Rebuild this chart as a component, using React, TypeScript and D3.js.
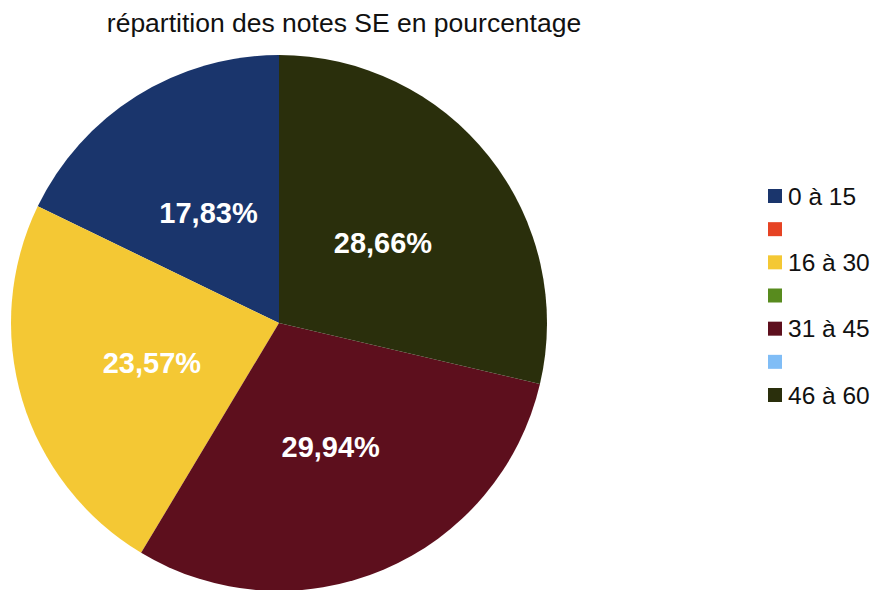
import React, { useEffect, useRef } from 'react';
import * as d3 from 'd3';

const categories = ['0 à 15', '', '16 à 30', '', '31 à 45', '', '46 à 60'];
const percentages = [17.83, 0, 23.57, 0, 29.94, 0, 28.66];
const colors = ['#1a356c', '#e64324', '#f4c834', '#588b1e', '#5d0f1d', '#80bdf6', '#2a2f0c'];
const title = 'répartition des notes SE en pourcentage';

const width = 873;
const height = 590;

export default function App() {
  const ref = useRef<SVGSVGElement>(null);

  useEffect(() => {
    const svg = d3.select(ref.current);
    svg.selectAll('*').remove();

    const font = '"Liberation Sans", Arial, sans-serif';
    const radius = 268;
    const cx = 279;
    const cy = 323;

    svg.append('text')
      .attr('x', 344)
      .attr('y', 32)
      .attr('text-anchor', 'middle')
      .attr('font-family', font)
      .attr('font-size', 26.5)
      .attr('fill', '#111')
      .text(title);

    const data = categories.map((c, i) => ({ label: c, value: percentages[i], color: colors[i] }));

    // counterclockwise from 12 o'clock, like the spreadsheet
    const pie = d3.pie<{ label: string; value: number; color: string }>()
      .value(d => d.value)
      .sort(null)
      .startAngle(0)
      .endAngle(-2 * Math.PI);

    const arcs = pie(data);
    const arc = d3.arc<d3.PieArcDatum<any>>().innerRadius(0).outerRadius(radius);
    const labelArc = d3.arc<d3.PieArcDatum<any>>().innerRadius(radius * 0.495).outerRadius(radius * 0.495);

    const g = svg.append('g').attr('transform', `translate(${cx},${cy})`);

    g.selectAll('path')
      .data(arcs.filter(d => d.data.value > 0))
      .enter()
      .append('path')
      .attr('d', arc)
      .attr('fill', d => d.data.color);

    g.selectAll('text.lbl')
      .data(arcs.filter(d => d.data.value > 0))
      .enter()
      .append('text')
      .attr('class', 'lbl')
      .attr('transform', d => `translate(${labelArc.centroid(d)})`)
      .attr('text-anchor', 'middle')
      .attr('dy', '0.42em')
      .attr('font-family', font)
      .attr('font-weight', 'bold')
      .attr('font-size', 29)
      .attr('fill', '#fff')
      .text(d => d.data.value.toFixed(2).replace('.', ',') + '%');

    const legend = svg.append('g').attr('transform', 'translate(768,189)');
    const rowY = d3.scaleLinear().domain([0, categories.length - 1]).range([0, 199]);

    const rows = legend.selectAll('g')
      .data(data)
      .enter()
      .append('g')
      .attr('transform', (d, i) => `translate(0,${rowY(i)})`);

    rows.append('rect')
      .attr('width', 14)
      .attr('height', 14)
      .attr('fill', d => d.color);

    rows.append('text')
      .attr('x', 20)
      .attr('y', 7)
      .attr('dy', '0.35em')
      .attr('font-family', font)
      .attr('font-size', 24.5)
      .attr('fill', '#111')
      .text(d => d.label);
  }, []);

  return (
    <svg
      ref={ref}
      width={width}
      height={height}
      style={{ position: 'absolute', left: 0, top: 0, background: '#fff' }}
    />
  );
}
